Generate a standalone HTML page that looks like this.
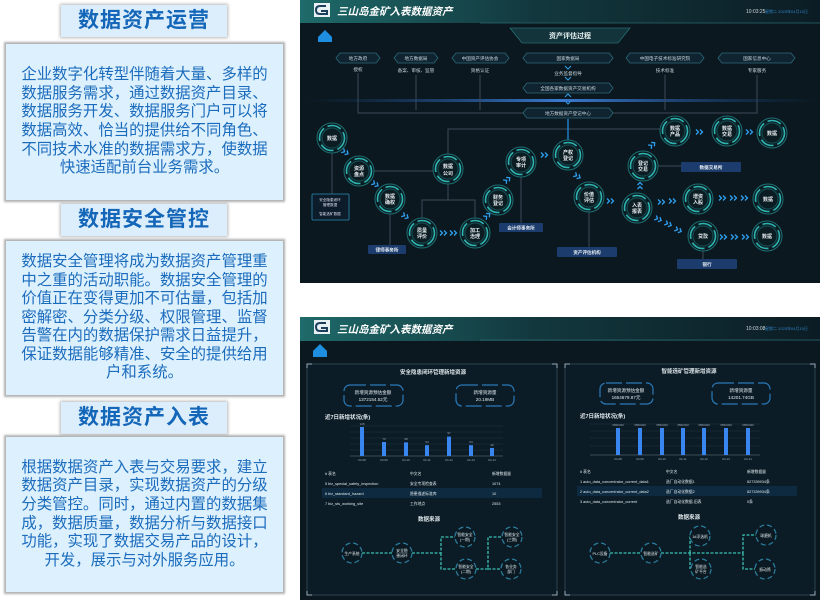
<!DOCTYPE html>
<html><head><meta charset="utf-8"><style>
html,body{margin:0;padding:0;background:#fff;width:820px;height:600px;overflow:hidden;font-family:"Liberation Sans","Noto Sans CJK SC",sans-serif}
.h{position:absolute;left:61px;width:166px;height:32px;background:#dcedfb;box-shadow:0 0 3px 1px #b8b8b8;color:#1366b8;font-weight:bold;font-size:21px;text-align:center;line-height:32px;letter-spacing:1px}
.b{position:absolute;left:6px;width:277px;background:#dcf0fd;box-shadow:0 0 2px 2px #b0b0b0;color:#1c6cbd;font-size:15.4px;line-height:18.6px;text-align:center;box-sizing:border-box;padding:0 14px;display:flex;align-items:center;justify-content:center}
svg{position:absolute;left:0;top:0}
</style></head><body>
<div class="h" style="top:5px">数据资产运营</div>
<div class="b" style="top:44px;height:156px"><div>企业数字化转型伴随着大量、多样的数据服务需求，通过数据资产目录、数据服务开发、数据服务门户可以将数据高效、恰当的提供给不同角色、不同技术水准的数据需求方，使数据快速适配前台业务需求。</div></div>
<div class="h" style="top:204px">数据安全管控</div>
<div class="b" style="top:241px;height:154px"><div>数据安全管理将成为数据资产管理重中之重的活动职能。数据安全管理的价值正在变得更加不可估量，包括加密解密、分类分级、权限管理、监督告警在内的数据保护需求日益提升，保证数据能够精准、安全的提供给用户和系统。</div></div>
<div class="h" style="top:402px">数据资产入表</div>
<div class="b" style="top:437px;height:155px"><div>根据数据资产入表与交易要求，建立数据资产目录，实现数据资产的分级分类管控。同时，通过内置的数据集成，数据质量，数据分析与数据接口功能，实现了数据交易产品的设计，开发，展示与对外服务应用。</div></div>

<svg width="820" height="600" viewBox="0 0 820 600" font-family="Liberation Sans,Noto Sans CJK SC,sans-serif">
<defs>
<linearGradient id="hd" x1="0" x2="1"><stop offset="0" stop-color="#1f6a6a"/><stop offset="0.45" stop-color="#12383e"/><stop offset="1" stop-color="#0c1c24"/></linearGradient>
<linearGradient id="gl" x1="0" x2="1"><stop offset="0" stop-color="#1c4a8a" stop-opacity="0"/><stop offset="0.5" stop-color="#3a7ad0"/><stop offset="1" stop-color="#1c4a8a" stop-opacity="0"/></linearGradient>
<g id="cn"><circle r="15" fill="#0a1a20" stroke="#1d6f72" stroke-width="1"/><circle r="12.5" fill="#0d2329" stroke="#2fb3b0" stroke-width="1.6" stroke-dasharray="14 4"/><circle r="10" fill="#0b1c22" stroke="#145055" stroke-width="1"/></g>
<g id="dm"><circle r="10" fill="#0b1a22" stroke="#2a7a9a" stroke-width="1.3" stroke-dasharray="5 3"/></g>
<path id="ch" d="M-3 -2.5 l2.5 2.5 l-2.5 2.5 M1 -2.5 l2.5 2.5 l-2.5 2.5" stroke="#2fa0f0" stroke-width="1.3" fill="none"/>
<g id="lg"><rect width="16" height="14" fill="#e8f0f4"/><path d="M12 3 h-6 q-4 0 -4 4 q0 4 4 4 h7 v-3 h-6" stroke="#1b3e5a" stroke-width="2" fill="none"/></g>
</defs>
<!-- panel 1 -->
<rect x="300" y="0" width="520" height="283" fill="#0b1820"/>
<rect x="300" y="0" width="520" height="23" fill="url(#hd)"/>
<line x1="480" y1="23" x2="820" y2="23" stroke="#2b6a70" stroke-width="0.8"/>
<use href="#lg" x="314" y="3"/>
<text x="337" y="15" fill="#fff" font-size="10.5" font-weight="bold" font-style="italic">三山岛金矿入表数据资产</text>
<text x="746" y="13" fill="#cfd8dc" font-size="5">10:03:25</text><text x="765" y="13" fill="#2f80c0" font-size="4">星期二 2025年04月15日</text>
<path d="M318 37 l7 -7 l7 7 v5 h-14z" fill="#1e8ee0"/>
<path d="M510 28 h120 l-12 15 h-96z" fill="#14343c" stroke="#2a8a8a" stroke-width="0.6"/>
<text x="570" y="38" fill="#e8f4f4" font-size="7" font-weight="bold" text-anchor="middle">资产评估过程</text>
<g fill="#0f2430" stroke="#2c6a7a" stroke-width="0.8">
<path d="M336 58 l4 -5 h36 l4 5 l-4 5 h-36z"/><path d="M394 58 l4 -5 h36 l4 5 l-4 5 h-36z"/><path d="M452 58 l4 -5 h49 l4 5 l-4 5 h-49z"/><path d="M523 58 l4 -5 h82 l4 5 l-4 5 h-82z"/><path d="M626 58 l4 -5 h70 l4 5 l-4 5 h-70z"/><path d="M718 58 l4 -5 h69 l4 5 l-4 5 h-69z"/>
<path d="M523 88 l4 -5 h82 l4 5 l-4 5 h-82z"/><path d="M523 113 l4 -5 h82 l4 5 l-4 5 h-82z"/>
</g>
<g fill="#c8d4dc" font-size="4.6" text-anchor="middle">
<text x="358" y="60">地方政府</text><text x="416" y="60">地方数据局</text><text x="480" y="60">中国资产评估协会</text><text x="568" y="60">国家数据局</text><text x="665" y="60">中国电子技术标准研究院</text><text x="757" y="60">国家信息中心</text>
<text x="568" y="90">全国各家数据资产交易机构</text><text x="568" y="115">地方数据资产登记中心</text>
<text x="358" y="71">授权</text><text x="416" y="72">备案、审核、监管</text><text x="480" y="72">资格认证</text><text x="568" y="75">业务监督指导</text><text x="665" y="72">技术标准</text><text x="757" y="72">专家服务</text>
</g>
<g stroke="#2fa0e8" fill="none" stroke-width="1"><path d="M565 66 l3 3 l3 -3M565 77 l3 3 l3 -3M565 97 l3 -3 l3 3M565 101 l3 3 l3 -3"/></g>
<rect x="305" y="99" width="515" height="3" fill="url(#gl)"/>
<g stroke="#3c4a58" stroke-width="1" fill="none">
<path d="M358 73 V113 H523 M416 75 V110 M480 75 V110 M613 113 H757 V75 M665 75 V110"/>
<path d="M448 155 V129 H675 M332 152 V194 M373 171 H434 M448 183 V200 H422 V219 M448 200 H475 V219 M390 213 V245 M521 176 V223 M589 211 V247 M657 166 H681 M703 222 V236 M703 250 V259"/>
</g>
<line x1="568" y1="119" x2="568" y2="141" stroke="#1e8ee0" stroke-width="1.3"/>
<g>
<use href="#cn" x="332" y="138"/><use href="#cn" x="359" y="171"/><use href="#cn" x="390" y="199"/><use href="#cn" x="422" y="233"/><use href="#cn" x="475" y="233"/><use href="#cn" x="448" y="169"/><use href="#cn" x="498" y="200"/><use href="#cn" x="521" y="162"/><use href="#cn" x="568" y="155"/><use href="#cn" x="589" y="197"/><use href="#cn" x="637" y="208"/><use href="#cn" x="643" y="166"/><use href="#cn" x="675" y="131"/><use href="#cn" x="727" y="131"/><use href="#cn" x="772" y="133"/><use href="#cn" x="698" y="199"/><use href="#cn" x="768" y="199"/><use href="#cn" x="703" y="236"/><use href="#cn" x="767" y="236"/>
</g>
<g fill="#e8eef2" font-size="5" font-weight="bold" text-anchor="middle">
<text x="332" y="140">数据</text>
<text x="359" y="170">资源</text><text x="359" y="176">盘点</text>
<text x="390" y="198">数据</text><text x="390" y="204">确权</text>
<text x="422" y="232">质量</text><text x="422" y="238">评价</text>
<text x="475" y="232">加工</text><text x="475" y="238">治理</text>
<text x="448" y="168">数据</text><text x="448" y="175">公司</text>
<text x="498" y="199">财务</text><text x="498" y="205">登记</text>
<text x="521" y="161">专项</text><text x="521" y="167">审计</text>
<text x="568" y="154">产权</text><text x="568" y="160">登记</text>
<text x="589" y="196">价值</text><text x="589" y="202">评估</text>
<text x="637" y="207">入表</text><text x="637" y="213">报表</text>
<text x="643" y="165">登记</text><text x="643" y="171">交易</text>
<text x="675" y="130">数据</text><text x="675" y="136">产品</text>
<text x="727" y="130">数据</text><text x="727" y="136">交易</text>
<text x="772" y="135">数据</text>
<text x="698" y="198">增资</text><text x="698" y="204">入股</text>
<text x="768" y="201">数据</text><text x="703" y="238">贷款</text><text x="767" y="238">数据</text>
</g>
<rect x="312" y="194" width="37" height="26" fill="#0d1c2a" stroke="#2b8ab0" stroke-width="0.8" rx="1"/>
<g fill="#dde" font-size="3.6" text-anchor="middle"><text x="330" y="201">安全隐患闭环</text><text x="330" y="206">管理数据</text><text x="330" y="215">智能选矿数据</text></g>
<g fill="#1b3c6c"><rect x="368" y="245" width="38" height="9" rx="1"/><rect x="499" y="223" width="44" height="9" rx="1"/><rect x="557" y="247" width="60" height="10" rx="1"/><rect x="681" y="162" width="60" height="10" rx="1"/><rect x="677" y="259" width="60" height="10" rx="1"/></g>
<g fill="#e8eef4" font-size="4.6" font-weight="bold" text-anchor="middle"><text x="387" y="251.5">律师事务所</text><text x="521" y="229.5">会计师事务所</text><text x="587" y="254">资产评估机构</text><text x="711" y="169">数据交易所</text><text x="707" y="266">银行</text></g>
<g>
<use href="#ch" transform="translate(345,152) rotate(30)"/><use href="#ch" transform="translate(375,184) rotate(30)"/><use href="#ch" transform="translate(405,216) rotate(30)"/>
<use href="#ch" x="443" y="233"/><use href="#ch" x="453" y="233"/>
<use href="#ch" transform="translate(487,216) rotate(-40)"/><use href="#ch" transform="translate(507,180) rotate(-40)"/>
<use href="#ch" x="544" y="155"/><use href="#ch" transform="translate(577,176) rotate(30)"/><use href="#ch" x="610" y="201"/>
<use href="#ch" transform="translate(640,186) rotate(-90)"/><use href="#ch" transform="translate(652,145) rotate(-40)"/>
<use href="#ch" x="699" y="132"/><use href="#ch" x="749" y="132"/>
<use href="#ch" x="661" y="202"/><use href="#ch" x="672" y="201"/>
<use href="#ch" x="722" y="198"/><use href="#ch" x="733" y="198"/><use href="#ch" x="744" y="198"/>
<use href="#ch" transform="translate(658,219) rotate(25)"/><use href="#ch" transform="translate(668,224) rotate(25)"/><use href="#ch" transform="translate(678,230) rotate(25)"/>
<use href="#ch" x="723" y="237"/><use href="#ch" x="734" y="237"/><use href="#ch" x="745" y="237"/>
</g>

<!-- panel 2 -->
<rect x="300" y="317" width="520" height="283" fill="#0b1820"/>
<rect x="300" y="317" width="520" height="24" fill="url(#hd)"/>
<line x1="480" y1="340" x2="820" y2="340" stroke="#2b6a70" stroke-width="0.8"/>
<use href="#lg" x="314" y="320"/>
<text x="337" y="333" fill="#fff" font-size="10.5" font-weight="bold" font-style="italic">三山岛金矿入表数据资产</text>
<text x="746" y="330" fill="#cfd8dc" font-size="5">10:03:08</text><text x="765" y="330" fill="#2f80c0" font-size="4">星期二 2025年04月15日</text>
<path d="M313 351 l7 -7 l7 7 v6 h-14z" fill="#1e8ee0"/>
<g fill="#0c1c26" stroke="#3a5866" stroke-width="0.7"><rect x="307" y="364" width="250" height="231"/><rect x="565" y="364" width="250" height="231"/></g>
<g stroke="#9ab" stroke-width="1" fill="none"><path d="M307 368 v-4 h5 M552 364 h5 v4 M307 591 v4 h5 M552 595 h5 v-4 M565 368 v-4 h5 M810 364 h5 v4 M565 591 v4 h5 M810 595 h5 v-4"/></g>
<g fill="#dde6ea" font-size="5.5" font-weight="bold" text-anchor="middle"><text x="433" y="374">安全隐患闭环管理新增资源</text><text x="689" y="373">智能选矿管理新增资源</text><text x="429" y="521">数据来源</text><text x="689" y="519">数据来源</text></g>
<g fill="#0c1c26" stroke="#2a7ab8" stroke-width="1.2" stroke-dasharray="16 4"><rect x="344" y="385" width="59" height="21" rx="6"/><rect x="456" y="385" width="58" height="21" rx="6"/><rect x="600" y="383" width="53" height="21" rx="6"/><rect x="712" y="383" width="58" height="21" rx="6"/></g>
<g fill="#dfe8ee" font-size="4.6" text-anchor="middle"><text x="373" y="394">新增资源预估金额</text><text x="373" y="401">1372154.52元</text><text x="485" y="394">新增资源量</text><text x="485" y="401">20.19MB</text><text x="626" y="392">新增资源预估金额</text><text x="626" y="399">1654679.87元</text><text x="741" y="392">新增资源量</text><text x="741" y="399">14201.74GB</text></g>
<g fill="#e4ecf0" font-size="5.5" font-weight="bold"><text x="325" y="419">近7日新增状况(条)</text><text x="580" y="418">近7日新增状况(条)</text></g>
<g stroke="#2a3a48" stroke-width="0.4"><path d="M350 426H503M350 432H503M350 438H503M350 444H503M350 450H503M590 424H760M590 431H760M590 438H760M590 446H760"/></g>
<g stroke="#6a7a88" stroke-width="0.5"><path d="M350 456H503M590 455H760"/></g>
<g fill="#3a86f0">
<rect x="360" y="427" width="4" height="29"/><rect x="382" y="442" width="4" height="14"/><rect x="404" y="442.4" width="4" height="13.6"/><rect x="425" y="445.2" width="4" height="10.8"/><rect x="447" y="436.6" width="4" height="19.4"/><rect x="469" y="445.2" width="4" height="10.8"/><rect x="490" y="448" width="4" height="8"/>
<rect x="616" y="428" width="4" height="27"/><rect x="638" y="428" width="4" height="27"/><rect x="660" y="428" width="4" height="27"/><rect x="681" y="428" width="4" height="27"/><rect x="702" y="428" width="4" height="27"/><rect x="724" y="428" width="4" height="27"/><rect x="746" y="428" width="4" height="27"/>
</g>
<g fill="#9aa8b4" font-size="3" text-anchor="middle">
<text x="362" y="425">145</text><text x="384" y="440">70</text><text x="406" y="440">68</text><text x="427" y="443">54</text><text x="449" y="434">97</text><text x="471" y="443">54</text><text x="492" y="446">40</text>
<text x="362" y="461">04-08</text><text x="384" y="461">04-09</text><text x="406" y="461">04-10</text><text x="427" y="461">04-11</text><text x="449" y="461">04-12</text><text x="471" y="461">04-13</text><text x="492" y="461">04-14</text>
<text x="618" y="460">04-08</text><text x="640" y="460">04-09</text><text x="662" y="460">04-10</text><text x="683" y="460">04-11</text><text x="704" y="460">04-12</text><text x="726" y="460">04-13</text><text x="748" y="460">04-14</text>
<text x="618" y="426">3560320</text><text x="640" y="426">3560320</text><text x="662" y="426">3560320</text><text x="683" y="426">3560320</text><text x="704" y="426">3560320</text><text x="726" y="426">3560320</text><text x="748" y="426">3560320</text>
</g>
<rect x="322" y="488" width="220" height="10" fill="#0e2a40"/><rect x="577" y="486" width="220" height="10" fill="#0e2a40"/>
<g fill="#dde6ea" font-size="3.8">
<text x="325" y="475">#  表名</text><text x="410" y="475">中文名</text><text x="492" y="475">新增数据量</text>
<text x="325" y="485">5  biz_special_safety_inspection</text><text x="410" y="485">安全专项检查表</text><text x="492" y="485">1074</text>
<text x="325" y="495">6  biz_standard_hazard</text><text x="410" y="495">隐患描述标准库</text><text x="492" y="495">10</text>
<text x="325" y="505">7  biz_sts_working_site</text><text x="410" y="505">工作地点</text><text x="492" y="505">2553</text>
<text x="580" y="473">#  表名</text><text x="666" y="473">中文名</text><text x="747" y="473">新增数据量</text>
<text x="580" y="483">1  auto_data_concentrator_current_data1</text><text x="666" y="483">选厂自动化数据1</text><text x="747" y="483">827339934条</text>
<text x="580" y="493">2  auto_data_concentrator_current_data2</text><text x="666" y="493">选厂自动化数据2</text><text x="747" y="493">827339934条</text>
<text x="580" y="503">3  auto_data_concentrator_current</text><text x="666" y="503">选厂自动化数据-旧表</text><text x="747" y="503">0条</text>
</g>
<g stroke="#3ac0b0" stroke-width="1.3" fill="none" stroke-dasharray="3 1.5">
<path d="M362 553H392M412 553H441V537H455M441 553V569H456M476 569H488V537H502M488 569H501"/>
<path d="M610 553H641M661 553H743V535H756M743 553V569H755M690 553V536M690 553V569"/>
</g>
<g><use href="#dm" x="352" y="553"/><use href="#dm" x="402" y="553"/><use href="#dm" x="465" y="537"/><use href="#dm" x="466" y="569"/><use href="#dm" x="512" y="537"/><use href="#dm" x="511" y="569"/><use href="#dm" x="600" y="553"/><use href="#dm" x="651" y="553"/><use href="#dm" x="700" y="536"/><use href="#dm" x="701" y="569"/><use href="#dm" x="766" y="535"/><use href="#dm" x="765" y="569"/></g>
<g fill="#dde6ea" font-size="3.8" text-anchor="middle">
<text x="352" y="555">生产系统</text><text x="402" y="552">安全隐</text><text x="402" y="557">患闭环</text><text x="465" y="536">智能安全</text><text x="465" y="541">(一期)</text><text x="466" y="568">智能安全</text><text x="466" y="573">(二期)</text><text x="512" y="536">智能安全</text><text x="512" y="541">(三期)</text><text x="511" y="568">各业务</text><text x="511" y="573">部门</text>
<text x="600" y="555">PLC设备</text><text x="651" y="555">智能选矿</text><text x="700" y="538">1#浮选机</text><text x="701" y="568">智能选</text><text x="701" y="573">矿平台</text><text x="766" y="537">球磨机</text><text x="765" y="571">振动筛</text>
</g>
</svg>
</body></html>
